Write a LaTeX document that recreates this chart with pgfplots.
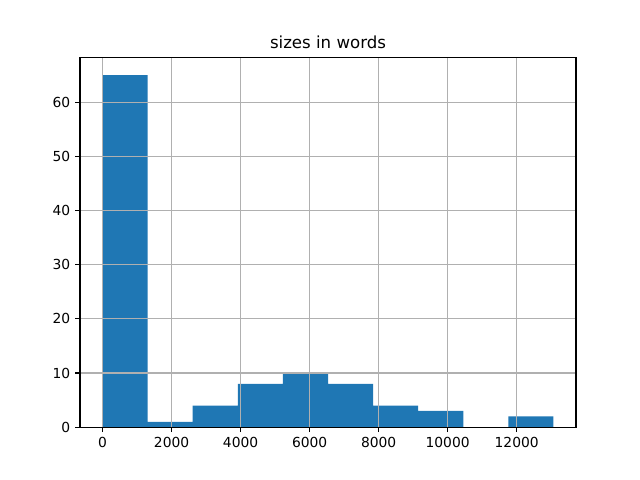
\documentclass[border=0pt]{standalone}
\usepackage{fontspec}
\setmainfont{DejaVu Sans}
\usepackage{pgfplots}
\pgfplotsset{compat=1.18}
\definecolor{mplblue}{HTML}{1F77B4}
\definecolor{gridgray}{HTML}{B0B0B0}
\begin{document}
\begin{tikzpicture}
\useasboundingbox (0,0) rectangle (6.4in,4.8in);
\begin{axis}[
  at={(0.8in,0.528in)}, anchor=south west,
  width=4.96in, height=3.696in, scale only axis,
  xmin=-653.3, xmax=13719.3, ymin=0, ymax=68.25,
  xtick={0,2000,4000,6000,8000,10000,12000}, ytick={0,10,20,30,40,50,60},
  scaled x ticks=false,
  /pgf/number format/1000 sep={},
  /pgf/number format/assume math mode=true,
  tick pos=left,
  tick align=outside, major tick length=3.5pt,
  tick style={black, line width=0.8pt},
  axis line style={line width=0.8pt},
  grid=major, major grid style={gridgray, line width=0.8pt},
  axis on top,
  tick label style={font=\fontsize{10}{12}\selectfont},
  title={sizes in words},
  title style={at={(0.5,1)}, anchor=base, yshift=0.3pt, inner sep=0pt, font=\fontsize{12}{14}\selectfont},
]
\addplot[ybar interval, fill=mplblue, draw=none] coordinates {
  (0,65) (1306.6,1) (2613.2,4) (3919.8,8) (5226.4,10) (6533.0,8)
  (7839.6,4) (9146.2,3) (10452.8,0) (11759.4,2) (13066,2)
};
\end{axis}
\end{tikzpicture}
\end{document}
